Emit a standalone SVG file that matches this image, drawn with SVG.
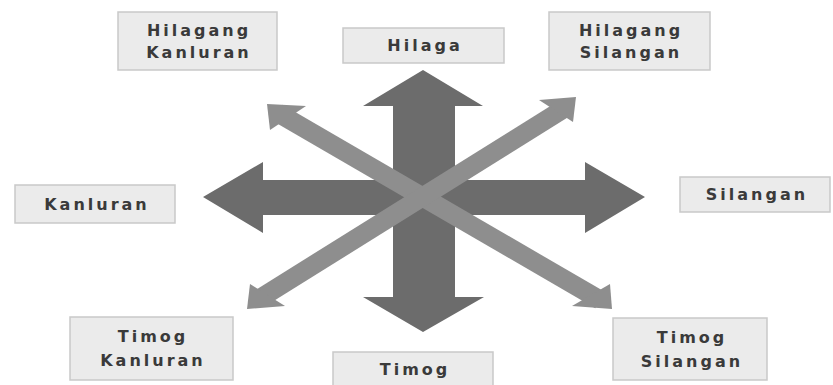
<svg xmlns="http://www.w3.org/2000/svg" width="833" height="385" viewBox="0 0 833 385">
<style>
.box{fill:#ebebeb;stroke:#c9c9c9;stroke-width:1.5}
.t{font-family:"DejaVu Sans",sans-serif;font-weight:bold;font-size:16px;fill:#3a3a3a;letter-spacing:3px;text-anchor:middle}
.dark{fill:#6c6c6c}
.light{fill:#8e8e8e}
.lshaft{stroke:#8e8e8e;stroke-width:19;stroke-linecap:butt}
</style>
<rect width="833" height="385" fill="#ffffff"/>
<g id="connectors">
<polygon class="dark" points="423,70 483,106 455,106 455,297 484,297 423,332 363,297 393,297 393,106 363,106"/>
<polygon class="dark" points="203,197 263,162 263,180 585,180 585,162 645,197 585,233 585,215 263,215 263,233"/>
<line class="lshaft" x1="278" y1="113" x2="600" y2="300"/>
<line class="lshaft" x1="565" y1="108" x2="259" y2="299"/>
<polygon class="light" points="267,104 306,106 270,130"/>
<polygon class="light" points="576,97 539,100 573,122"/>
<polygon class="light" points="247,309 250,284 285,306"/>
<polygon class="light" points="612,309 610,284 572,306"/>
</g>
<g id="hilagang-kanluran"><rect class="box" x="118" y="12" width="159" height="58"/><text class="t" x="199" y="36">Hilagang</text><text class="t" x="199" y="58">Kanluran</text></g>
<g id="hilaga"><rect class="box" x="343" y="28" width="161" height="35"/><text class="t" x="425" y="51">Hilaga</text></g>
<g id="hilagang-silangan"><rect class="box" x="549" y="12" width="161" height="58"/><text class="t" x="631" y="36">Hilagang</text><text class="t" x="631" y="58">Silangan</text></g>
<g id="kanluran"><rect class="box" x="15" y="185" width="160" height="38"/><text class="t" x="97" y="210">Kanluran</text></g>
<g id="silangan"><rect class="box" x="680" y="177" width="150" height="35"/><text class="t" x="757" y="200">Silangan</text></g>
<g id="timog-kanluran"><rect class="box" x="70" y="317" width="163" height="63"/><text class="t" x="153" y="342">Timog</text><text class="t" x="153" y="366">Kanluran</text></g>
<g id="timog"><rect class="box" x="333" y="352" width="160" height="40"/><text class="t" x="415" y="375">Timog</text></g>
<g id="timog-silangan"><rect class="box" x="613" y="318" width="154" height="62"/><text class="t" x="692" y="343">Timog</text><text class="t" x="692" y="367">Silangan</text></g>
</svg>
